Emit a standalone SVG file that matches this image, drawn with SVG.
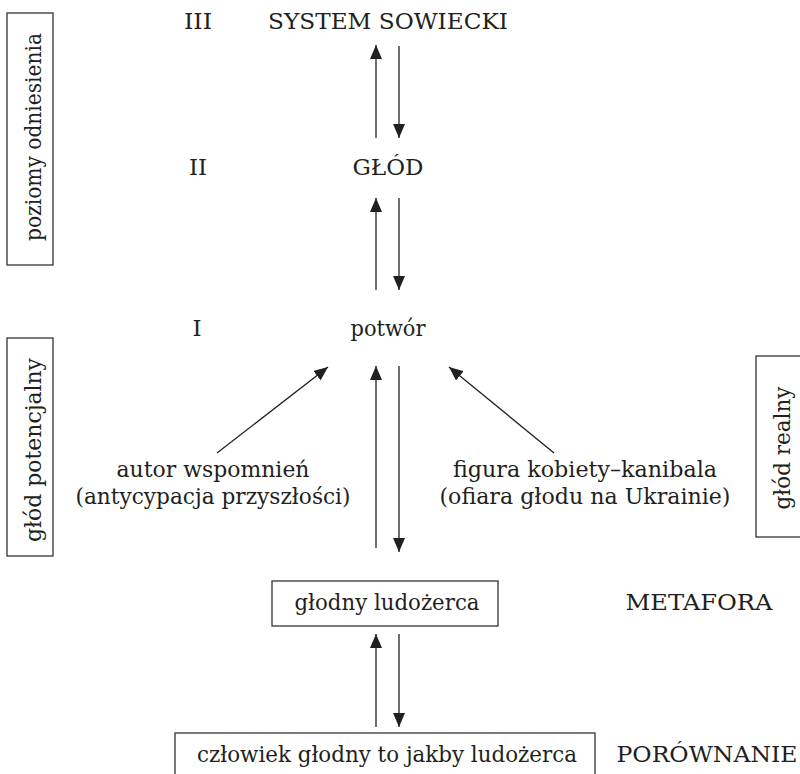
<svg xmlns="http://www.w3.org/2000/svg" width="800" height="774" viewBox="0 0 800 774">
  <style>
    text { font-family: "DejaVu Serif", "Liberation Serif", serif; font-size: 23px; fill: #231f20; }
    .v { font-size: 22px; }
    .c { text-anchor: middle; }
    .box { fill: none; stroke: #333; stroke-width: 1.3; }
    .ar { stroke: #231f20; stroke-width: 1.3; fill: none; marker-end: url(#ah); }
  </style>
  <defs>
    <marker id="ah" viewBox="0 0 14 12" refX="14" refY="6" markerUnits="userSpaceOnUse" markerWidth="14" markerHeight="12" orient="auto">
      <path d="M0,0 L14,6 L0,12 z" fill="#231f20"/>
    </marker>
  </defs>
  <rect width="800" height="774" fill="#ffffff"/>

  <g id="side-poziomy">
    <rect class="box" x="7" y="13" width="46" height="252"/>
    <text class="c v" transform="translate(41,137) rotate(-90)" textLength="208" lengthAdjust="spacingAndGlyphs">poziomy odniesienia</text>
  </g>
  <g id="side-potencjalny">
    <rect class="box" x="7" y="338" width="46" height="218"/>
    <text class="c v" transform="translate(41,450) rotate(-90)" textLength="184" lengthAdjust="spacingAndGlyphs">głód potencjalny</text>
  </g>
  <g id="side-realny">
    <rect class="box" x="756" y="356" width="50" height="181"/>
    <text class="c v" transform="translate(790,448) rotate(-90)" textLength="123" lengthAdjust="spacingAndGlyphs">głód realny</text>
  </g>

  <g id="level-III">
    <text class="c" x="198" y="29" textLength="28" lengthAdjust="spacingAndGlyphs">III</text>
    <text class="c" x="388" y="29" textLength="240" lengthAdjust="spacingAndGlyphs">SYSTEM SOWIECKI</text>
  </g>
  <g id="level-II">
    <text class="c" x="198" y="175" textLength="18" lengthAdjust="spacingAndGlyphs">II</text>
    <text class="c" x="388" y="175" textLength="71" lengthAdjust="spacingAndGlyphs">GŁÓD</text>
  </g>
  <g id="level-I">
    <text class="c" x="197" y="336">I</text>
    <text class="c" x="388" y="336" textLength="75" lengthAdjust="spacingAndGlyphs">potwór</text>
  </g>
  <g id="autor">
    <text class="c" x="213" y="477" textLength="193" lengthAdjust="spacingAndGlyphs">autor wspomnień</text>
    <text class="c" x="213" y="504" textLength="275" lengthAdjust="spacingAndGlyphs">(antycypacja przyszłości)</text>
  </g>
  <g id="figura">
    <text class="c" x="585" y="477" textLength="264" lengthAdjust="spacingAndGlyphs">figura kobiety–kanibala</text>
    <text class="c" x="585" y="504" textLength="291" lengthAdjust="spacingAndGlyphs">(ofiara głodu na Ukrainie)</text>
  </g>
  <g id="metafora">
    <rect class="box" x="272" y="581" width="226" height="45"/>
    <text class="c" x="387" y="610" textLength="185" lengthAdjust="spacingAndGlyphs">głodny ludożerca</text>
    <text class="c" x="699" y="610" textLength="147" lengthAdjust="spacingAndGlyphs">METAFORA</text>
  </g>
  <g id="porownanie">
    <rect class="box" x="175" y="733" width="420" height="50"/>
    <text class="c" x="387" y="762" textLength="380" lengthAdjust="spacingAndGlyphs">człowiek głodny to jakby ludożerca</text>
    <text class="c" x="707" y="762" textLength="181" lengthAdjust="spacingAndGlyphs">PORÓWNANIE</text>
  </g>

  <g id="connectors">
    <line class="ar" x1="376" y1="138" x2="376" y2="45"/>
    <line class="ar" x1="399" y1="46" x2="399" y2="138"/>
    <line class="ar" x1="376" y1="290" x2="376" y2="198"/>
    <line class="ar" x1="399" y1="198" x2="399" y2="290"/>
    <line class="ar" x1="376" y1="548" x2="376" y2="366"/>
    <line class="ar" x1="399" y1="366" x2="399" y2="552"/>
    <line class="ar" x1="217" y1="453" x2="328" y2="367"/>
    <line class="ar" x1="554" y1="453" x2="449" y2="367"/>
    <line class="ar" x1="376" y1="727" x2="376" y2="634"/>
    <line class="ar" x1="399" y1="634" x2="399" y2="727"/>
  </g>
</svg>
